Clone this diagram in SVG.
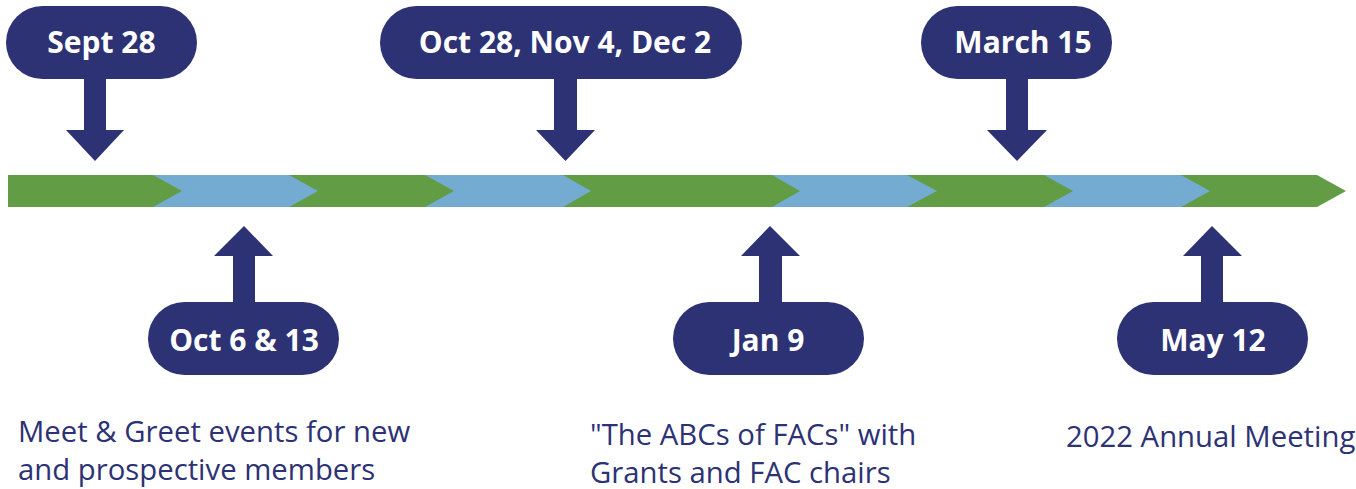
<svg xmlns="http://www.w3.org/2000/svg" width="1356" height="489" viewBox="0 0 1356 489">
<style>
.g{fill:#629c44}
.b{fill:#74abd0}
.pill{fill:#2c3274}
.arr{fill:#2c3274}
.lbl{font-family:"Open Sans","Liberation Sans",sans-serif;font-weight:bold;font-size:30px;fill:#ffffff;text-anchor:middle}
.desc{font-family:"Open Sans","Liberation Sans",sans-serif;font-size:29.3px;fill:#2c3274}
</style>
<rect width="1356" height="489" fill="#ffffff"/>
<g id="timeline">
<polygon class="g" points="1181,175 1317,175 1346,191 1317,207 1181,207"/>
<polygon class="b" points="1044,175 1181,175 1210,191 1181,207 1044,207"/>
<polygon class="g" points="907,175 1044,175 1073,191 1044,207 907,207"/>
<polygon class="b" points="772,175 907,175 937,191 907,207 772,207"/>
<polygon class="g" points="563,175 772,175 800,191 772,207 563,207"/>
<polygon class="b" points="425,175 563,175 591,191 563,207 425,207"/>
<polygon class="g" points="289,175 425,175 454,191 425,207 289,207"/>
<polygon class="b" points="153,175 289,175 318,191 289,207 153,207"/>
<polygon class="g" points="8,175 153,175 182,191 153,207 8,207"/>
</g>
<g id="connectors">
<polygon class="arr" points="84,79 106,79 106,130 124,130 95,161 66,130 84,130"/>
<polygon class="arr" points="554,79 577,79 577,130 595,130 565.5,161 536,130 554,130"/>
<polygon class="arr" points="1006,79 1028,79 1028,130 1047,130 1017,161 987,130 1006,130"/>
<polygon class="arr" points="233,302 255,302 255,256 273,256 244,226 214,256 233,256"/>
<polygon class="arr" points="759,302 782,302 782,256 800,256 770,226 741,256 759,256"/>
<polygon class="arr" points="1201,302 1223,302 1223,256 1242,256 1212,226 1183,256 1201,256"/>
</g>
<g id="n-sept28">
<rect class="pill" x="6" y="6" width="191" height="73" rx="36.5"/>
<text class="lbl" x="101.5" y="53">Sept 28</text>
</g>
<g id="n-oct28">
<rect class="pill" x="380" y="6" width="362" height="73" rx="36.5"/>
<text class="lbl" x="565" y="53">Oct 28, Nov 4, Dec 2</text>
</g>
<g id="n-march15">
<rect class="pill" x="921" y="6" width="191" height="73" rx="36.5"/>
<text class="lbl" x="1023" y="53">March 15</text>
</g>
<g id="n-oct6">
<rect class="pill" x="148" y="302" width="191" height="73" rx="36.5"/>
<text class="lbl" x="244" y="351">Oct 6 &amp; 13</text>
</g>
<g id="n-jan9">
<rect class="pill" x="673" y="302" width="191" height="73" rx="36.5"/>
<text class="lbl" x="768" y="351">Jan 9</text>
</g>
<g id="n-may12">
<rect class="pill" x="1117" y="302" width="191" height="73" rx="36.5"/>
<text class="lbl" x="1213" y="351">May 12</text>
</g>
<g id="descriptions">
<text class="desc" x="18" y="442">Meet &amp; Greet events for new</text>
<text class="desc" x="18" y="480">and prospective members</text>
<text class="desc" x="590" y="445">"The ABCs of FACs" with</text>
<text class="desc" x="590" y="483">Grants and FAC chairs</text>
<text class="desc" x="1066" y="447">2022 Annual Meeting</text>
</g>
</svg>
